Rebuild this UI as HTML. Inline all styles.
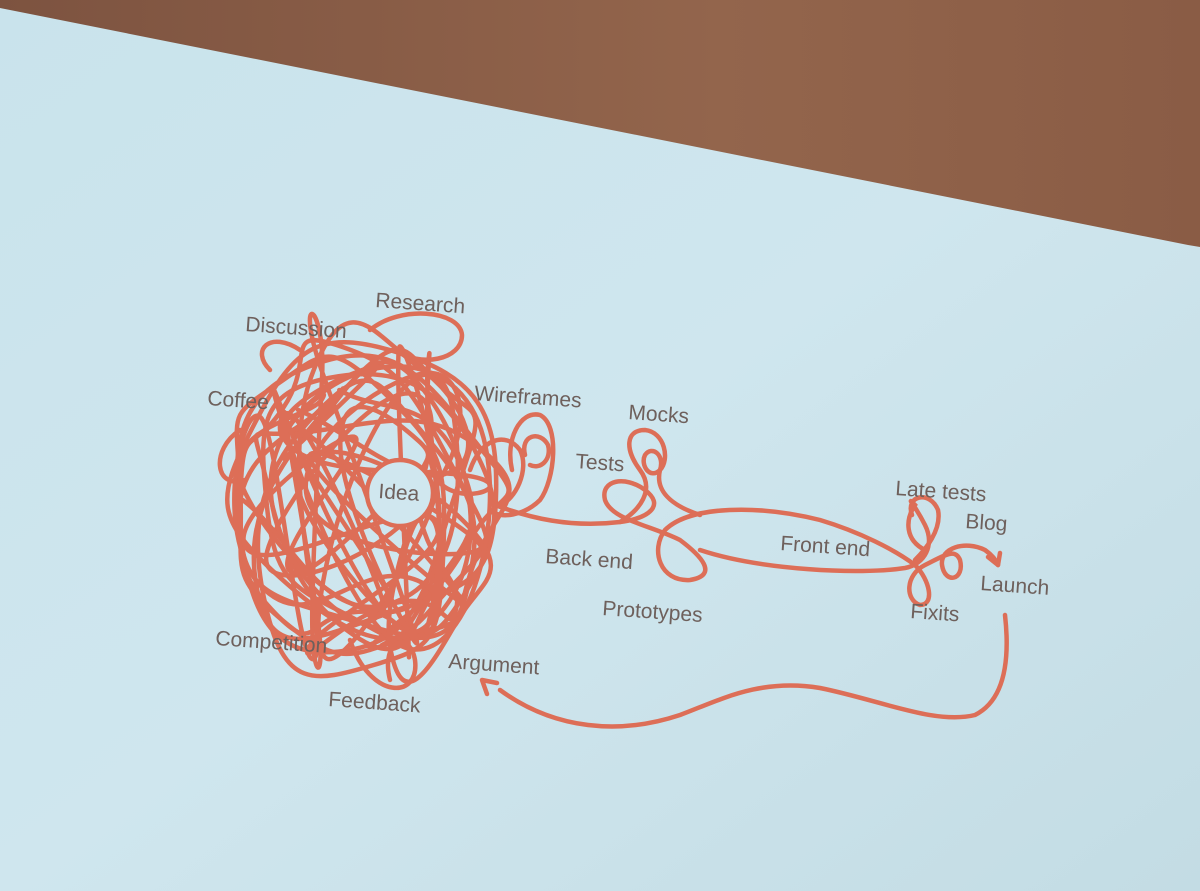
<!DOCTYPE html>
<html><head><meta charset="utf-8"><style>
html,body{margin:0;padding:0;width:1200px;height:891px;overflow:hidden;background:#8c5e47;}
svg{display:block}
text{font-family:"Liberation Sans",sans-serif;font-size:21px;fill:#6e605c;}
</style></head><body>
<svg id="s" width="1200" height="891" viewBox="0 0 1200 891" xmlns="http://www.w3.org/2000/svg">
<defs>
<linearGradient id="bg" x1="0" y1="0" x2="1" y2="1">
<stop offset="0" stop-color="#c9e3ec"/><stop offset="0.5" stop-color="#cfe6ee"/><stop offset="1" stop-color="#c3dce4"/>
</linearGradient>
<linearGradient id="wall" x1="0" y1="0" x2="1" y2="0">
<stop offset="0" stop-color="#7d5340"/><stop offset="0.6" stop-color="#93654c"/><stop offset="1" stop-color="#8a5c45"/>
</linearGradient>
</defs>
<rect width="1200" height="891" fill="url(#wall)"/>
<polygon points="0,8 1188,245 1200,247 1200,891 0,891" fill="url(#bg)"/>
<g id="tangle" fill="none" stroke="#dd6e57" stroke-width="4.5" stroke-linecap="round" stroke-linejoin="round"></g>
<g fill="none" stroke="#dd6e57" stroke-width="4.5" stroke-linecap="round">
<path d="M470,470 C480,440 505,430 520,450 C530,470 515,500 500,505 M512,470 C505,440 520,410 540,415 C560,425 555,480 540,500 C525,515 500,520 490,510 M525,455 C520,435 540,430 548,445 C552,460 540,470 530,465"/>
<path d="M495,505 C530,518 570,528 620,522 C650,518 665,505 645,490 C625,475 600,480 605,500 C612,520 650,525 680,540 C700,555 720,575 690,580 C660,582 650,550 665,530 C690,505 760,505 820,520 C860,532 895,550 915,565 C930,580 935,605 920,605 C905,600 905,575 925,565 C945,555 955,548 960,560 C965,580 945,585 942,565 C940,548 965,540 985,550 C992,555 996,560 998,565"/>
<path d="M998,565 L1000,553 M998,565 L988,557"/>
<path d="M700,550 C760,570 860,575 905,568 C925,564 935,545 925,525 C915,505 905,495 915,505 C905,520 905,540 925,550"/>
<path d="M912,515 C905,495 930,490 938,510 C942,530 925,550 915,560"/>
<path d="M620,522 C640,510 655,490 640,470 C625,450 625,430 645,430 C665,432 670,460 660,470 C650,480 640,465 645,455 C652,445 665,455 660,470 C655,490 670,505 700,515"/>
<path d="M1005,615 C1010,660 1005,700 975,715 C935,725 880,700 820,688 C760,678 720,700 680,715 C620,735 555,730 500,690"/>
<path d="M482,680 L497,683 M482,680 L487,694"/>
</g>
<circle cx="400" cy="493" r="33" fill="#d0e7ef" stroke="#dd6e57" stroke-width="4.5"/>
<g>
<text x="375" y="307" transform="rotate(4 375 307)">Research</text>
<text x="245" y="331" transform="rotate(4 245 331)">Discussion</text>
<text x="207" y="405" transform="rotate(4 207 405)">Coffee</text>
<text x="474" y="400" transform="rotate(4 474 400)">Wireframes</text>
<text x="628" y="419" transform="rotate(4 628 419)">Mocks</text>
<text x="575" y="468" transform="rotate(4 575 468)">Tests</text>
<text x="378" y="498" transform="rotate(4 378 498)">Idea</text>
<text x="895" y="495" transform="rotate(4 895 495)">Late tests</text>
<text x="965" y="528" transform="rotate(4 965 528)">Blog</text>
<text x="780" y="550" transform="rotate(4 780 550)">Front end</text>
<text x="545" y="563" transform="rotate(4 545 563)">Back end</text>
<text x="980" y="590" transform="rotate(4 980 590)">Launch</text>
<text x="910" y="618" transform="rotate(4 910 618)">Fixits</text>
<text x="602" y="615" transform="rotate(4 602 615)">Prototypes</text>
<text x="215" y="645" transform="rotate(4 215 645)">Competition</text>
<text x="448" y="668" transform="rotate(4 448 668)">Argument</text>
<text x="328" y="706" transform="rotate(4 328 706)">Feedback</text>
</g>
</svg>
<script>
(function(){
var seed=31;function r(){seed=(seed*16807)%2147483647;return (seed-1)/2147483646;}
var cx=365,cy=505,g=document.getElementById('tangle');
function ring(n){var a=[],ang=r()*6.28;for(var i=0;i<n;i++){ang+=0.6+r()*1.4;var rad=0.55+r()*0.45;a.push([cx+Math.cos(ang)*rad*132,cy+Math.sin(ang)*rad*172]);}return a;}
function walk(n){var a=[];for(var i=0;i<n;i++){var ang=r()*6.283,rad=0.2+Math.sqrt(r())*0.8;a.push([cx+Math.cos(ang)*rad*130,cy+Math.sin(ang)*rad*170]);}return a;}
function cr(p){var d='M'+p[0][0].toFixed(1)+','+p[0][1].toFixed(1);
for(var i=0;i<p.length-1;i++){var p0=p[i-1]||p[i],p1=p[i],p2=p[i+1],p3=p[i+2]||p2;
d+=' C'+(p1[0]+(p2[0]-p0[0])/3).toFixed(1)+','+(p1[1]+(p2[1]-p0[1])/3).toFixed(1)+' '+(p2[0]-(p3[0]-p1[0])/3).toFixed(1)+','+(p2[1]-(p3[1]-p1[1])/3).toFixed(1)+' '+p2[0].toFixed(1)+','+p2[1].toFixed(1);}
return d;}
function add(d){var p=document.createElementNS('http://www.w3.org/2000/svg','path');p.setAttribute('d',d);g.appendChild(p);}
for(var k=0;k<3;k++)add(cr(ring(18)));
for(var k=0;k<3;k++)add(cr(walk(22)));
add('M370,330 C400,305 460,310 462,335 C462,360 420,368 395,350 M350,640 C370,700 420,700 415,660 C410,630 380,640 390,680 M240,430 C210,450 215,490 245,480 M300,350 C270,330 250,350 270,370');
})();
</script>
</body></html>
